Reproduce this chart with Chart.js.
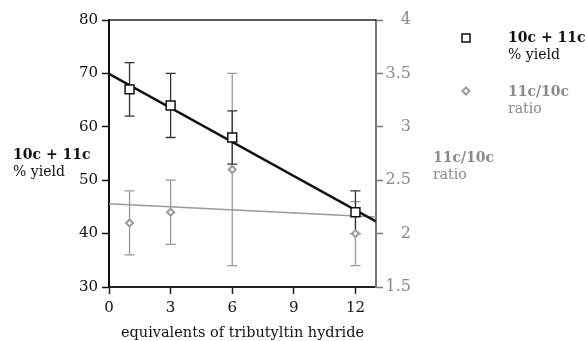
<!DOCTYPE html>
<html>
<head>
<meta charset="utf-8">
<script src="https://cdn.jsdelivr.net/npm/chart.js@4"></script>
<style>
  html, body { margin: 0; padding: 0; background: #fff; }
  #wrap { position: relative; width: 585px; height: 341px; overflow: hidden; }
  canvas { position: absolute; left: 0; top: 0; }
  .lbl { position: absolute; font-family: "DejaVu Serif", serif; font-size: 14px; line-height: 17px; white-space: nowrap; }
  .lbl b { font-weight: bold; }
  .dark { color: #111; }
  .grey { color: #8a8a8a; }
</style>
</head>
<body>
<div id="wrap">
  <canvas id="c" width="585" height="341"></canvas>
  <div class="lbl dark" style="left:13px; top:146px;"><b>10c + 11c</b><br>% yield</div>
  <div class="lbl grey" style="left:433px; top:149px;"><b>11c/10c</b><br>ratio</div>
  <div class="lbl dark" style="left:508px; top:29px;"><b>10c + 11c</b><br>% yield</div>
  <div class="lbl grey" style="left:508px; top:83px;"><b>11c/10c</b><br>ratio</div>
</div>
<script>
// ---- data ----
const equivalents = [1, 3, 6, 12];
const yieldValues = [67, 64, 58, 44];
const yieldLow    = [62, 58, 53, 40];
const yieldHigh   = [72, 70, 63, 48];
const ratioValues = [2.1, 2.2, 2.6, 2.0];
const ratioLow    = [1.8, 1.9, 1.7, 1.7];
const ratioHigh   = [2.4, 2.5, 3.5, 2.3];
// fitted trend lines (end points)
const yieldFitX = [0, 13];
const yieldFitY = [69.9, 42.3];
const ratioFitX = [0, 13];
const ratioFitY = [2.28, 2.155];
// axis ticks
const xTicks = [0, 3, 6, 9, 12];
const yTicksLeft = [30, 40, 50, 60, 70, 80];
const yTicksRight = [1.5, 2, 2.5, 3, 3.5, 4];

const FONT = "'DejaVu Serif', serif";
const DARK = '#111';
const GREY = '#8a8a8a';
const GREY_MARK = '#9a9a9a';

const pts = (xs, ys) => xs.map((x, i) => ({ x: x, y: ys[i] }));

const errorBars = {
  id: 'errorBars',
  beforeDatasetsDraw(chart) {
    const ctx = chart.ctx;
    const xs = chart.scales.x;
    const draw = (scale, lows, highs, color, w) => {
      ctx.save();
      ctx.strokeStyle = color;
      ctx.lineWidth = w;
      equivalents.forEach((x, i) => {
        const px = xs.getPixelForValue(x);
        const y1 = scale.getPixelForValue(lows[i]);
        const y2 = scale.getPixelForValue(highs[i]);
        ctx.beginPath();
        ctx.moveTo(px, y1); ctx.lineTo(px, y2);
        ctx.moveTo(px - 5, y1); ctx.lineTo(px + 5, y1);
        ctx.moveTo(px - 5, y2); ctx.lineTo(px + 5, y2);
        ctx.stroke();
      });
      ctx.restore();
    };
    draw(chart.scales.y1, ratioLow, ratioHigh, GREY_MARK, 1.3);
    draw(chart.scales.y, yieldLow, yieldHigh, '#333', 1.3);
  },
  afterDraw(chart) {
    const ctx = chart.ctx;
    const a = chart.chartArea;
    ctx.save();
    // top frame line
    ctx.strokeStyle = '#222';
    ctx.lineWidth = 1.5;
    ctx.beginPath();
    ctx.moveTo(a.left, a.top); ctx.lineTo(a.right, a.top);
    ctx.stroke();
    // legend symbols
    ctx.fillStyle = '#fff';
    ctx.strokeStyle = DARK;
    ctx.lineWidth = 1.5;
    ctx.beginPath();
    ctx.rect(462, 34, 8, 8);
    ctx.fill(); ctx.stroke();
    ctx.strokeStyle = GREY_MARK;
    ctx.lineWidth = 2;
    ctx.beginPath();
    ctx.moveTo(462.5, 91); ctx.lineTo(466, 87.5); ctx.lineTo(469.5, 91); ctx.lineTo(466, 94.5); ctx.closePath();
    ctx.fill(); ctx.stroke();
    ctx.restore();
  }
};

new Chart(document.getElementById('c'), {
  type: 'scatter',
  data: {
    datasets: [
      {
        label: '10c + 11c % yield',
        data: pts(equivalents, yieldValues),
        yAxisID: 'y',
        pointStyle: 'rect',
        pointRadius: 6.3,
        pointHoverRadius: 6.3,
        borderColor: DARK,
        backgroundColor: '#fff',
        borderWidth: 1.5,
        showLine: false
      },
      {
        label: '11c/10c ratio',
        data: pts(equivalents, ratioValues),
        yAxisID: 'y1',
        pointStyle: 'rectRot',
        pointRadius: 3.5,
        pointHoverRadius: 3.5,
        borderColor: GREY_MARK,
        backgroundColor: '#fff',
        borderWidth: 2,
        showLine: false
      },
      {
        type: 'line',
        label: 'yield fit',
        data: pts(yieldFitX, yieldFitY),
        yAxisID: 'y',
        borderColor: DARK,
        borderWidth: 2.5,
        pointRadius: 0,
        fill: false
      },
      {
        type: 'line',
        label: 'ratio fit',
        data: pts(ratioFitX, ratioFitY),
        yAxisID: 'y1',
        borderColor: GREY_MARK,
        borderWidth: 1.5,
        pointRadius: 0,
        fill: false
      }
    ]
  },
  options: {
    responsive: false,
    animation: false,
    events: [],
    layout: { padding: { top: 20, left: 0, right: 174, bottom: 0 } },
    plugins: { legend: { display: false }, tooltip: { enabled: false } },
    scales: {
      x: {
        type: 'linear',
        min: 0, max: 13,
        afterFit: s => { s.height = 54; },
        afterBuildTicks: s => { s.ticks = xTicks.map(v => ({ value: v })); },
        ticks: { font: { family: FONT, size: 15 }, color: DARK, padding: 5, includeBounds: false, maxRotation: 0 },
        grid: { drawOnChartArea: false, drawTicks: true, tickLength: 7, color: '#222', tickWidth: 1.5 },
        border: { display: true, color: '#222', width: 2 },
        title: {
          display: true,
          text: 'equivalents of tributyltin hydride',
          font: { family: FONT, size: 14.5 },
          color: DARK,
          padding: { top: 0, bottom: -1 }
        }
      },
      y: {
        type: 'linear',
        position: 'left',
        min: 30, max: 80,
        afterFit: s => { s.width = 109; },
        afterBuildTicks: s => { s.ticks = yTicksLeft.map(v => ({ value: v })); },
        ticks: { font: { family: FONT, size: 15 }, color: DARK, padding: 4, callback: v => String(v) },
        grid: { drawOnChartArea: false, drawTicks: true, tickLength: 7, color: DARK, tickWidth: 1.5 },
        border: { display: true, color: DARK, width: 2 }
      },
      y1: {
        type: 'linear',
        position: 'right',
        min: 1.5, max: 4,
        afterFit: s => { s.width = 35; },
        afterBuildTicks: s => { s.ticks = yTicksRight.map(v => ({ value: v })); },
        ticks: { font: { family: FONT, size: 16 }, color: GREY, padding: 1, crossAlign: 'far', callback: v => String(v) },
        grid: { drawOnChartArea: false, drawTicks: true, tickLength: 7, color: '#777', tickWidth: 1.5 },
        border: { display: true, color: '#777', width: 2 }
      }
    }
  },
  plugins: [errorBars]
});
</script>
</body>
</html>
